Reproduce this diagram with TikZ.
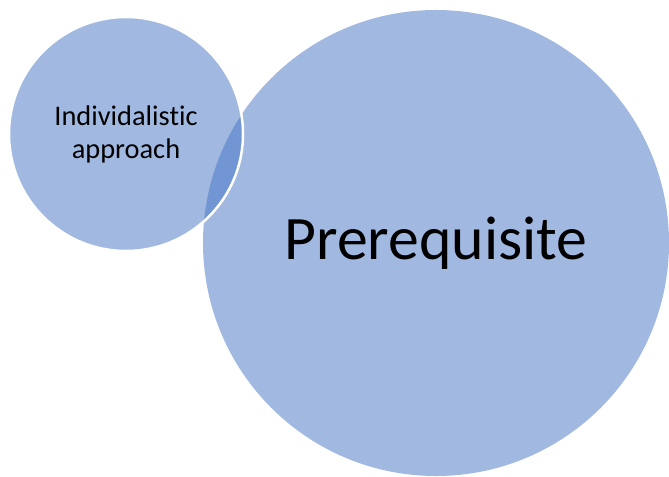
\documentclass[tikz,border=0pt]{standalone}
\usepackage{fontspec}
\setmainfont[Ligatures={NoCommon,NoRare}]{Carlito}
\definecolor{vennblue}{HTML}{4472C4}
\begin{document}
\begin{tikzpicture}[x=1bp, y=-1bp, venn/.style = {circle, fill=vennblue, fill opacity=0.5, text opacity=1, inner sep=0pt}]
                  \useasboundingbox (0,0) rectangle (669,477);
                  \node[venn, minimum size=466bp, font=\fontsize{62}{74}\selectfont](prereq) at (436,243) {Prerequisite};
                  \node[venn, minimum size=234bp, draw=white, line width=2.5bp, align=center, font=\fontsize{28.5}{33}\selectfont](indiv) at (126,134) {Individalistic\\approach};

          \end{tikzpicture}
\end{document}
